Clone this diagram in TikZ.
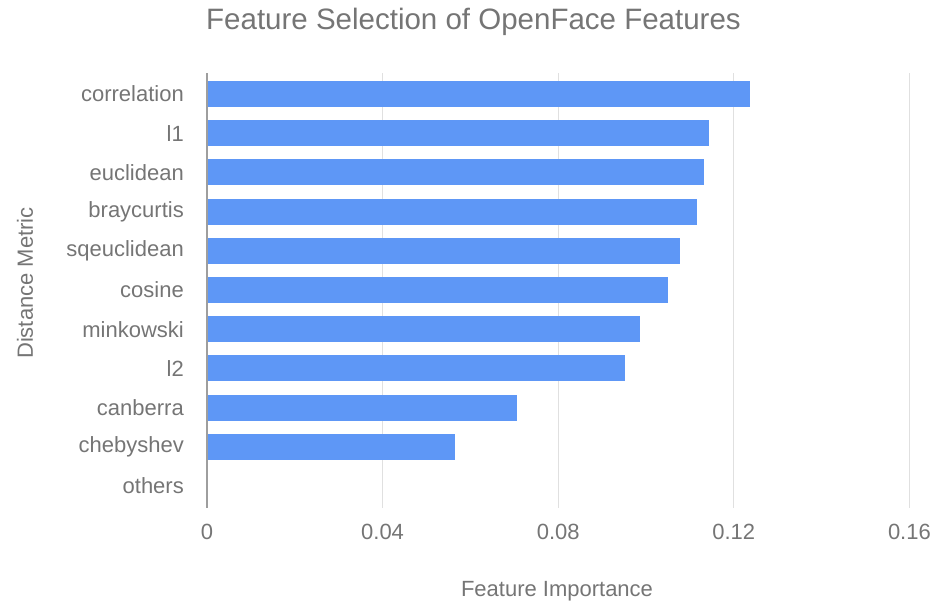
\documentclass[tikz,border=0pt]{standalone}
\usepackage{fontspec}
\setmainfont{Liberation Sans}
\usetikzlibrary{positioning}
\definecolor{barblue}{HTML}{5E97F6}
\definecolor{txtgray}{HTML}{757575}
\definecolor{gridgray}{HTML}{E0E0E0}
\definecolor{axisgray}{HTML}{9E9E9E}

\begin{document}
\begin{tikzpicture}[x=1pt, y=-1pt, font=\fontsize{22}{26}\selectfont,
    lbl/.style={text=txtgray, inner sep=0pt}]
    \useasboundingbox (0,0) rectangle (935,608);

    % title
    \node[lbl, anchor=west, font=\fontsize{29.5}{34}\selectfont] (title) at (206,22) {Feature Selection of OpenFace Features};

    % gridlines and ticks
    \foreach \v [count=\i] in {0.04,0.08,0.12,0.16} {
        \draw[gridgray, line width=1.2pt] (207+\v*4390,73) -- (207+\v*4390,508);
        \node[lbl] (T\i) at (207+\v*4390,532) {\v};
    }
    \node[lbl] (T0) at (207,532) {0};

    % bars
    \foreach \name/\val [count=\i from 0] in {correlation/0.1237, l1/0.1144, euclidean/0.1132,
        braycurtis/0.1116, sqeuclidean/0.1077, cosine/0.1050, minkowski/0.0986,
        l2/0.0952, canberra/0.0706, chebyshev/0.0565, others/0} {
        \node[lbl, anchor=east] (L\i) at (184,94+39.2*\i) {\name};
        \fill[barblue] (207,81+39.2*\i) rectangle (207+\val*4390,107+39.2*\i);
    }

    % zero axis
    \draw[axisgray, line width=1.5pt] (207,73) -- (207,508);

    % axis titles
    \node[lbl] (xtitle) at (557,591) {Feature Importance};
    \node[lbl, rotate=90] (ytitle) at (25,283) {Distance Metric};
\end{tikzpicture}
\end{document}
